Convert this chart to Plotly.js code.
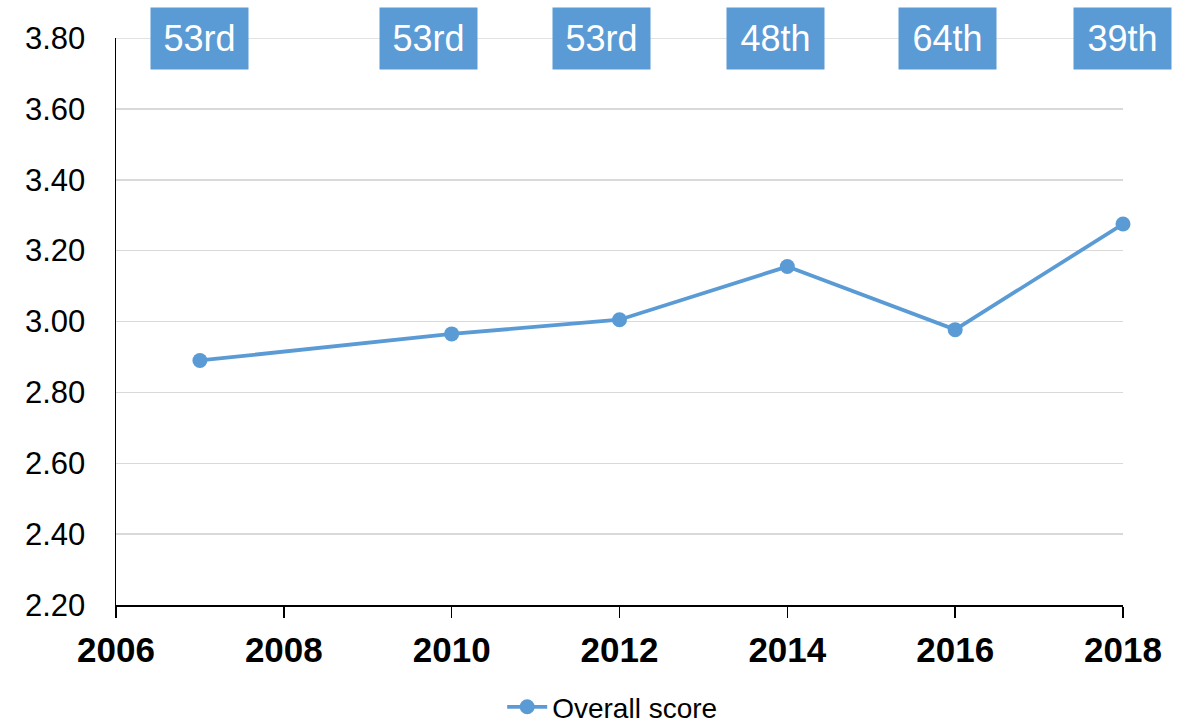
<!DOCTYPE html>
<html>
<head>
<meta charset="utf-8">
<script src="https://cdn.plot.ly/plotly-3.0.1.min.js"></script>
<style>html,body{margin:0;padding:0;background:#fff;}#chart{width:1191px;height:723px;}</style>
</head>
<body>
<div id="chart"></div>
<script>
const years = [2007, 2010, 2012, 2014, 2016, 2018];
const overallScore = [2.89, 2.965, 3.005, 3.155, 2.977, 3.275];
const rankLabels = ["53rd", "53rd", "53rd", "48th", "64th", "39th"];
const rankX = [2007.0, 2009.72, 2011.78, 2013.86, 2015.91, 2017.99];
const rankY = 3.80;
const yTicks = [2.2, 2.4, 2.6, 2.8, 3.0, 3.2, 3.4, 3.6, 3.8];
const xTicks = [2006, 2008, 2010, 2012, 2014, 2016, 2018];

const blue = '#5B9BD5';
const fam = 'Arial, Liberation Sans, sans-serif';

const trace = {
  x: years, y: overallScore, type: 'scatter', mode: 'lines+markers',
  name: 'Overall score',
  line: {color: blue, width: 3.8},
  marker: {color: blue, size: 15},
  cliponaxis: false
};

const annotations = rankLabels.map((t, i) => ({
  x: rankX[i], y: rankY, xref: 'x', yref: 'y',
  text: t, showarrow: false,
  font: {family: fam, size: 36, color: '#ffffff'},
  bgcolor: blue, width: 95, height: 59, borderpad: 1,
  xanchor: 'center', yanchor: 'middle'
}));

const layout = {
  width: 1191, height: 723,
  margin: {l: 116, r: 68, t: 38, b: 118},
  paper_bgcolor: '#ffffff', plot_bgcolor: '#ffffff',
  font: {family: fam, color: '#000000'},
  xaxis: {
    range: [2006, 2018], tickvals: xTicks, ticktext: xTicks.map(String),
    showgrid: false, zeroline: false,
    showline: true, linecolor: '#000000', linewidth: 1.5,
    ticks: 'outside', ticklen: 11, tickwidth: 1.5, tickcolor: '#000000',
    tickfont: {family: fam, size: 35, color: '#000000', weight: 'bold'},
    ticklabelstandoff: 2
  },
  yaxis: {
    range: [2.2, 3.8], tickvals: yTicks, ticktext: yTicks.map(v => v.toFixed(2)),
    showgrid: true, gridcolor: '#D9D9D9', gridwidth: 1.5, zeroline: false,
    showline: true, linecolor: '#000000', linewidth: 1.5,
    ticks: '', ticklabelstandoff: 23,
    tickfont: {family: fam, size: 31, color: '#000000'}
  },
  shapes: [{
    type: 'line', xref: 'paper', x0: 0, x1: 1, yref: 'y', y0: 3.8, y1: 3.8,
    line: {color: '#D9D9D9', width: 1.5}, layer: 'below'
  }],
  showlegend: true,
  legend: {
    orientation: 'h', xref: 'container', x: 0.514, xanchor: 'center',
    yref: 'container', y: 0.022, yanchor: 'middle',
    font: {family: fam, size: 28, color: '#000000'},
    itemwidth: 40
  },
  annotations: annotations
};

Plotly.newPlot('chart', [trace], layout, {displayModeBar: false, staticPlot: true});
</script>
</body>
</html>
